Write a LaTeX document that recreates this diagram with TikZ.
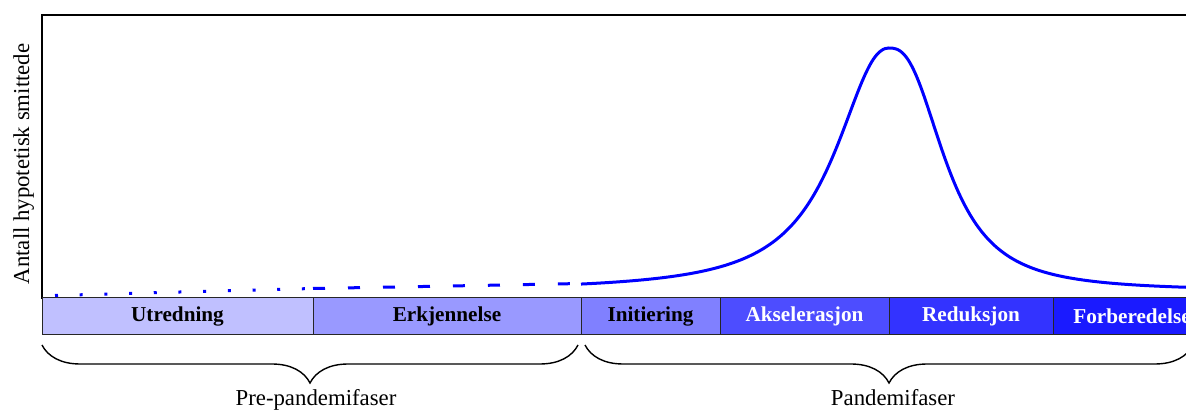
\documentclass[tikz,border=0pt]{standalone}
\usepackage{fontspec}
\setmainfont{Liberation Serif}
\definecolor{phblue1}{RGB}{192,192,255}
\definecolor{phblue2}{RGB}{153,153,255}
\definecolor{phblue3}{RGB}{128,128,255}
\definecolor{phblue4}{RGB}{77,77,255}
\definecolor{phblue5}{RGB}{51,51,255}
\definecolor{phblue6}{RGB}{26,26,255}
\definecolor{curveblue}{RGB}{0,0,255}
\usetikzlibrary{positioning,decorations.pathreplacing}

\begin{document}
\begin{tikzpicture}[x=0.5pt, y=-0.5pt,
    declare function={
      wave(\t)=291-243/(1+pow((abs(\t-889)+0.01)/(\t<889?62:60),(\t<889?2.2:2.6)));},
    phase/.style={draw=black!85, line width=0.5pt, minimum height=18.5pt,
      inner sep=0pt, outer sep=0pt, font=\fontsize{10.6}{12}\selectfont\bfseries},
    lbl/.style={font=\fontsize{11.4}{13}\selectfont, inner sep=0pt},
    curve/.style={curveblue, line width=1.5pt},
    brc/.style={decorate, decoration={brace, mirror, amplitude=19pt}, line width=0.7pt}]
  \clip (0,0) rectangle (1186,410);
  % Plot frame
  \draw[line width=0.7pt] (42,15) rectangle (1240,298);
  % Axis label
  \node[lbl, rotate=90, anchor=base] (ylab) at (29,164) {Antall hypotetisk smittede};
  % Hypothetical number of infected
  \draw[curve, dash pattern=on 1.5pt off 10.85pt]
    plot[smooth] coordinates {(55,295.5) (180,292) (313,288.5)};
  \draw[curve, dash pattern=on 6pt off 11.5pt]
    plot[smooth] coordinates {(313,288.5) (450,286) (581,283.5)};
  \draw[curve] plot[domain=581:1200, samples=160, smooth] (\x, {wave(\x)});
  % Phase bar
  \node[phase, fill=phblue1, minimum width=135.5pt, anchor=north west] (utr) at (42,298) {Utredning};
  \node[phase, fill=phblue2, minimum width=134pt, right=0pt of utr] (erk) {Erkjennelse};
  \node[phase, fill=phblue3, minimum width=69.5pt, right=0pt of erk] (ini) {Initiering};
  \node[phase, fill=phblue4, minimum width=84.5pt, right=0pt of ini, text=white] (aks) {Akselerasjon};
  \node[phase, fill=phblue5, minimum width=82pt, right=0pt of aks, text=white] (red) {Reduksjon};
  \node[phase, fill=phblue6, minimum width=79pt, right=0pt of red, text=white] (forb) {Forberedelse};
  % Braces
  \draw[brc] ([yshift=-5pt]utr.south west) -- ([xshift=-1.5pt, yshift=-5pt]erk.south east);
  \draw[brc] ([xshift=2pt, yshift=-5pt]ini.south west) -- ([xshift=-9pt, yshift=-5pt]forb.south east);
  \node[lbl, anchor=base] (prelbl) at (316,406) {Pre-pandemifaser};
  \node[lbl, anchor=base] (panlbl) at (893,406) {Pandemifaser};
\end{tikzpicture}
\end{document}
